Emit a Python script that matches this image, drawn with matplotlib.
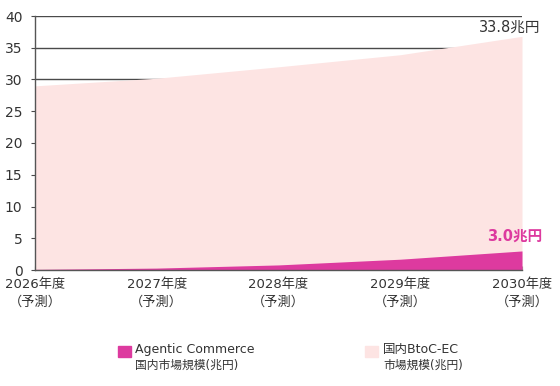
import numpy as np
import matplotlib
matplotlib.use('Agg')
import matplotlib.pyplot as plt
from matplotlib.patches import Rectangle

plt.rcParams['font.family'] = ['DejaVu Sans', 'Noto Sans CJK JP']

years = ['2026年度\n（予測）', '2027年度\n（予測）', '2028年度\n（予測）', '2029年度\n（予測）', '2030年度\n（予測）']
agentic = [0.1, 0.3, 0.8, 1.7, 3.0]
btoc = [28.9, 29.9, 31.2, 32.2, 33.8]

AgCol = "#DD3A9F"
BtoCCol = "#FDE4E3"
GridCol = "#4a4a4a"
TxtCol = "#333333"

x = np.arange(len(years))
total = np.array(agentic) + np.array(btoc)

fig = plt.figure(figsize=(5.6, 3.86), dpi=100)
ax = fig.add_axes([35/560, 1-270/386, (522-35)/560, (270-16)/386])

ax.set_axisbelow(True)
ax.yaxis.grid(True, color=GridCol, linewidth=1.0, zorder=0)
ax.fill_between(x, 0, total, color=BtoCCol, linewidth=0, zorder=1)
ax.fill_between(x, 0, agentic, color=AgCol, linewidth=0, zorder=2)

ax.set_xlim(0, 4)
ax.set_ylim(0, 40)
ax.set_yticks(range(0, 41, 5))
ax.set_xticks(x)
ax.set_xticklabels(years, fontsize=9.5, color=TxtCol, linespacing=1.4)
ax.tick_params(axis='y', labelsize=10, colors=TxtCol, length=3, color=GridCol, pad=6)
ax.tick_params(axis='x', length=3, direction='in', color=GridCol, pad=6)

for s in ['top', 'right']:
    ax.spines[s].set_visible(False)
for s in ['left', 'bottom']:
    ax.spines[s].set_color('#555555')
    ax.spines[s].set_linewidth(1.0)
    ax.spines[s].set_zorder(3)

ax.text(4.15, 38.3, '%.1f兆円' % btoc[-1], ha='right', va='center', fontsize=10.5, color=TxtCol)
ax.text(4.17, 5.4, '%.1f兆円' % agentic[-1], ha='right', va='center', fontsize=10.5,
        color=AgCol, fontweight='bold')

# legend
fig.patches.append(Rectangle((118/560, 1-357/386), 13/560, 11/386, transform=fig.transFigure, color=AgCol))
fig.text(135/560, 1-350/386, 'Agentic Commerce', fontsize=9, color=TxtCol, va='center')
fig.text(135/560, 1-365/386, '国内市場規模(兆円)', fontsize=8.5, color=TxtCol, va='center')
fig.patches.append(Rectangle((365/560, 1-357/386), 13/560, 11/386, transform=fig.transFigure, color=BtoCCol))
fig.text(383/560, 1-350/386, '国内BtoC-EC', fontsize=9, color=TxtCol, va='center')
fig.text(383/560, 1-365/386, '市場規模(兆円)', fontsize=8.5, color=TxtCol, va='center')

plt.savefig('out.png', dpi=100)
